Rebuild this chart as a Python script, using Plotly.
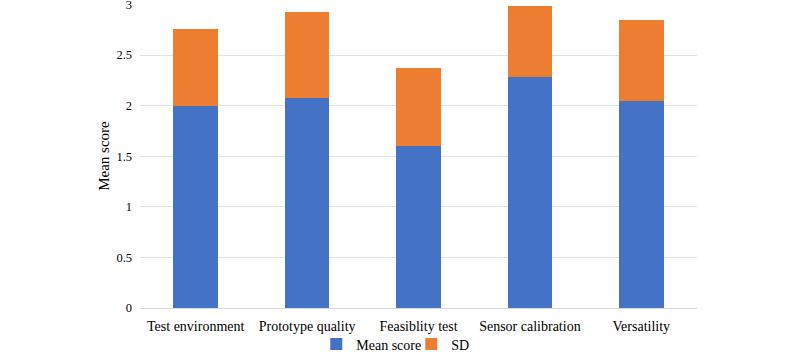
import plotly.graph_objects as go

categories = ["Test environment", "Prototype quality", "Feasiblity test", "Sensor calibration", "Versatility"]
mean_score = [2.0, 2.08, 1.60, 2.28, 2.05]
sd = [0.76, 0.85, 0.77, 0.71, 0.80]
y_tick_step = 0.5
y_max = 3

font = "Liberation Serif"

fig = go.Figure()
fig.add_trace(go.Bar(x=categories, y=mean_score, name="Mean score", marker_color="#4472C4",
                     marker_line_width=0))
fig.add_trace(go.Bar(x=categories, y=sd, name="SD", marker_color="#ED7D31",
                     marker_line_width=0))

fig.update_layout(
    barmode="stack",
    bargap=0.6,
    width=800, height=357,
    margin=dict(l=140, r=103, t=8, b=45, autoexpand=False),
    plot_bgcolor="white", paper_bgcolor="white",
    font=dict(family=font, size=13, color="#000000"),
    legend=dict(orientation="h", x=0.487, xanchor="center", y=-0.12, yanchor="middle",
                traceorder="normal", font=dict(family=font, size=14),
                bgcolor="rgba(0,0,0,0)", itemwidth=30, tracegroupgap=0,
                entrywidth=50, entrywidthmode="pixels"),
    xaxis=dict(showline=True, linecolor="#d9d9d9", linewidth=1, ticks="",
               tickfont=dict(family=font, size=14), automargin=False,
               ticklabelstandoff=5),
    yaxis=dict(range=[0, y_max + 0.005], tickmode="linear", tick0=0, dtick=y_tick_step,
               showgrid=True, gridcolor="#e2e2e2", zeroline=False, automargin=False,
               title=dict(text="Mean score", font=dict(family=font, size=15), standoff=3),
               tickfont=dict(family=font, size=12.5), ticks="", ticklabelstandoff=7),
)

fig.write_html("out.html", config={"displayModeBar": False},
               post_script="document.body.style.margin='-4px 0 0 0';")
